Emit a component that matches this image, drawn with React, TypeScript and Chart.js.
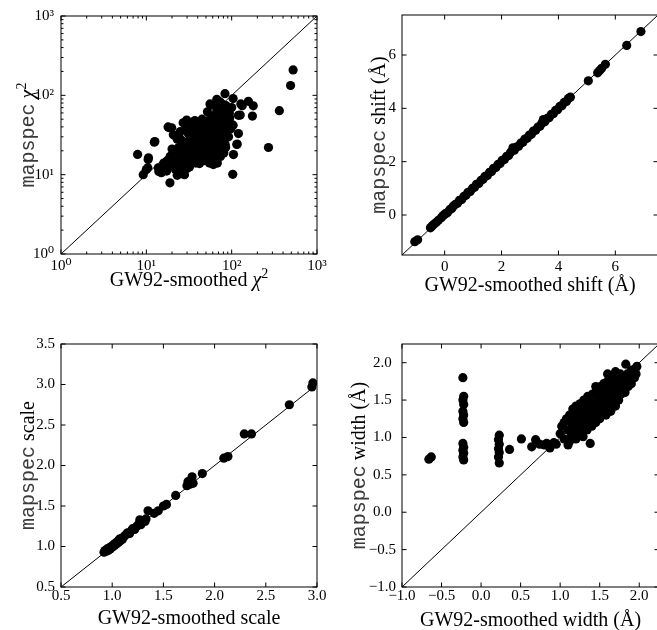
import React, { useEffect, useRef } from 'react';
import { Chart, registerables } from 'chart.js';

Chart.register(...registerables);

// ---------- DATA ----------
// Panel 1: chi^2 (GW92-smoothed, mapspec)
const chiPoints: number[][] = [
  [525, 209], [490, 133], [362, 64], [270, 22], [103, 10.1], [105, 17.9], [116, 24.3], [61, 13.4], [81, 18.8],
  [7.9, 18], [9.2, 10], [10.4, 12.2], [10.6, 16.3], [12.4, 25.7], [13.8, 12.2], [15, 10.6], [18.9, 7.9],
  [18.4, 39.2], [19.8, 39], [20.7, 31.8], [26, 10.3], [17.3, 14.8], [29.7, 48.9], [83.5, 105], [73, 82.6],
  [55.7, 78], [104, 91], [157, 84], [179, 73.7], [175, 54.8], [126, 56.4], [128, 78], [133, 74], [67, 89],
  [57, 75], [76, 79], [52, 62], [120, 56], [104, 42], [120, 33], [115, 24], [84, 24], [48.7, 16.3], [17.3, 11.1],
  [10, 11.6], [10.5, 15.5], [12.6, 26.2], [18, 40],
  [22, 14], [22, 18], [24, 12], [25, 16], [26, 20], [27, 13], [28, 17], [28, 23], [30, 15], [30, 19], [31, 26],
  [32, 12.5], [33, 21], [34, 16], [34, 30], [35, 24], [36, 18], [37, 34], [38, 14], [38, 27], [39, 21], [40, 40],
  [41, 17], [42, 30], [43, 24], [44, 35], [45, 20], [46, 44], [47, 28], [48, 15], [49, 33], [50, 23], [51, 38],
  [52, 27], [53, 48], [54, 19], [55, 31], [56, 42], [57, 25], [58, 36], [60, 29], [60, 52], [62, 21], [63, 40],
  [64, 33], [65, 27], [66, 46], [68, 37], [70, 24], [70, 30], [72, 58], [73, 42], [75, 34], [76, 19.5], [78, 50],
  [80, 28], [82, 40], [85, 35], [88, 62], [90, 45], [92, 30], [95, 52], [98, 38], [100, 70], [18, 13], [19, 17],
  [20, 21], [21, 15], [23, 28], [24, 22], [25, 35], [27, 45], [29, 37], [31, 33], [33, 44], [35, 38], [37, 48],
  [39, 17], [42, 13.8], [44, 22], [46, 25], [50, 16.5], [55, 14], [58, 18], [62, 16], [66, 20], [36, 22], [40, 26],
  [45, 31], [48, 38], [53, 34], [57, 46], [61, 55], [67, 64], [70, 72], [78, 68], [86, 74], [94, 60], [45, 50],
  [41, 44], [35, 28], [30, 22], [26, 27], [24, 31], [32, 40], [39, 33], [49, 28], [54, 24], [59, 33], [64, 26],
  [72, 36], [80, 46], [88, 50], [96, 44], [85, 22], [74, 17], [68, 14], [30, 12], [22, 11.5], [20, 13], [16, 14],
  [15, 12], [14, 11], [28, 10], [23, 9.8],
];
const chiTicks = [1, 10, 100, 1000];
const chiTickLabels = ['10\u2070', '10\u00b9', '10\u00b2', '10\u00b3'];
const chiRange = [1, 1000];

// Panel 2: shift (Å)
const shiftPoints: number[][] = [
  [-1.05, -1.0], [-0.95, -0.93], [-0.5, -0.48], [-0.45, -0.42], [-0.38, -0.35], [-0.3, -0.28], [-0.22, -0.2],
  [-0.12, -0.1], [-0.05, -0.02], [0.0, 0.03], [0.05, 0.06], [0.1, 0.09], [0.18, 0.2], [0.25, 0.24], [0.3, 0.33],
  [0.38, 0.4], [0.45, 0.44], [0.52, 0.55], [0.6, 0.58], [0.68, 0.7], [0.75, 0.74], [0.82, 0.85], [0.9, 0.88],
  [0.98, 1.0], [1.05, 1.04], [1.12, 1.15], [1.2, 1.18], [1.28, 1.3], [1.35, 1.34], [1.42, 1.45], [1.5, 1.48],
  [1.58, 1.6], [1.65, 1.63], [1.72, 1.75], [1.8, 1.78], [1.88, 1.9], [1.95, 1.93], [2.02, 2.05], [2.1, 2.08],
  [2.18, 2.2], [2.25, 2.23], [2.32, 2.35], [2.4, 2.52], [2.45, 2.43], [2.52, 2.55], [2.6, 2.58], [2.68, 2.7],
  [2.75, 2.73], [2.82, 2.85], [2.9, 2.88], [2.98, 3.0], [3.05, 3.03], [3.12, 3.15], [3.2, 3.18], [3.28, 3.3],
  [3.35, 3.33], [3.42, 3.45], [3.47, 3.58], [3.52, 3.5], [3.6, 3.62], [3.67, 3.65], [3.75, 3.77], [3.82, 3.8],
  [3.9, 3.92], [3.97, 3.95], [4.05, 4.07], [4.12, 4.1], [4.2, 4.22], [4.28, 4.26], [4.35, 4.37], [4.42, 4.42],
  [5.05, 5.03], [5.38, 5.33], [5.45, 5.42], [5.52, 5.5], [5.65, 5.65], [6.4, 6.36], [6.9, 6.88],
];
const shiftTicks = [0, 2, 4, 6];
const shiftTickLabels = ['0', '2', '4', '6'];
const shiftRange = [-1.5, 7.5];

// Panel 3: scale
const scalePoints: number[][] = [
  [0.92, 0.93], [0.93, 0.95], [0.94, 0.94], [0.95, 0.97], [0.96, 0.95], [0.97, 0.98], [0.98, 0.97], [0.99, 1.0],
  [1.0, 0.99], [1.01, 1.02], [1.02, 1.01], [1.03, 1.04], [1.04, 1.03], [1.05, 1.06], [1.06, 1.05], [1.07, 1.09],
  [1.08, 1.07], [1.09, 1.1], [1.1, 1.09], [1.12, 1.13], [1.14, 1.15], [1.15, 1.17], [1.17, 1.16], [1.19, 1.2],
  [1.2, 1.22], [1.22, 1.21], [1.24, 1.25], [1.26, 1.28], [1.27, 1.33], [1.28, 1.27], [1.3, 1.32], [1.32, 1.31],
  [1.33, 1.34], [1.35, 1.44], [1.41, 1.41], [1.45, 1.44], [1.5, 1.5], [1.53, 1.52], [1.62, 1.63], [1.73, 1.75],
  [1.74, 1.8], [1.76, 1.77], [1.78, 1.86], [1.79, 1.78], [1.88, 1.9], [2.09, 2.09], [2.13, 2.11], [2.29, 2.39],
  [2.36, 2.39], [2.73, 2.75], [2.95, 2.97], [2.96, 3.02],
];
const scaleXTicks = [0.5, 1.0, 1.5, 2.0, 2.5, 3.0];
const scaleXTickLabels = ['0.5', '1.0', '1.5', '2.0', '2.5', '3.0'];
const scaleYTicks = [0.5, 1.0, 1.5, 2.0, 2.5, 3.0, 3.5];
const scaleYTickLabels = ['0.5', '1.0', '1.5', '2.0', '2.5', '3.0', '3.5'];
const scaleXRange = [0.5, 3.0];
const scaleYRange = [0.5, 3.5];

// Panel 4: width (Å)
const widthPoints: number[][] = [
  [-0.66, 0.71], [-0.63, 0.74],
  [-0.23, 1.8], [-0.22, 1.55], [-0.23, 1.5], [-0.22, 1.44], [-0.23, 1.35], [-0.22, 1.3], [-0.23, 1.25],
  [-0.22, 1.2], [-0.23, 0.92], [-0.22, 0.87], [-0.23, 0.83], [-0.22, 0.79], [-0.23, 0.74], [-0.22, 0.7],
  [0.23, 1.03], [0.22, 0.97], [0.23, 0.91], [0.22, 0.85], [0.23, 0.8], [0.22, 0.74], [0.23, 0.66],
  [0.36, 0.84], [0.51, 0.98], [0.64, 0.875], [0.69, 0.97], [0.74, 0.91], [0.8, 0.9], [0.83, 0.92], [0.87, 0.86],
  [0.95, 0.91], [0.92, 0.93], [1.38, 0.92],
  [1.0, 1.05], [1.02, 1.15], [1.05, 1.2], [1.05, 0.98], [1.08, 1.25], [1.1, 1.1], [1.1, 0.9], [1.12, 0.95],
  [1.12, 1.3], [1.14, 1.02], [1.15, 1.18], [1.16, 1.38], [1.18, 1.08], [1.18, 1.25], [1.2, 1.42], [1.2, 0.98],
  [1.22, 1.15], [1.22, 1.32], [1.24, 1.05], [1.25, 1.45], [1.25, 1.22], [1.27, 1.12], [1.28, 1.38], [1.29, 1.01],
  [1.3, 1.5], [1.3, 1.28], [1.32, 1.18], [1.33, 1.42], [1.34, 1.1], [1.35, 1.55], [1.35, 1.33], [1.37, 1.22],
  [1.38, 1.48], [1.4, 1.15], [1.4, 1.38], [1.41, 1.58], [1.42, 1.28], [1.44, 1.45], [1.45, 1.2], [1.46, 1.62],
  [1.47, 1.35], [1.48, 1.52], [1.5, 1.25], [1.5, 1.42], [1.51, 1.68], [1.52, 1.58], [1.53, 1.32], [1.55, 1.48],
  [1.55, 1.72], [1.56, 1.38], [1.58, 1.62], [1.58, 1.3], [1.6, 1.52], [1.6, 1.75], [1.62, 1.42], [1.63, 1.68],
  [1.64, 1.35], [1.65, 1.58], [1.66, 1.78], [1.67, 1.48], [1.68, 1.65], [1.7, 1.42], [1.7, 1.72], [1.71, 1.55],
  [1.72, 1.82], [1.73, 1.62], [1.74, 1.5], [1.75, 1.7], [1.76, 1.85], [1.77, 1.58], [1.78, 1.75], [1.8, 1.65],
  [1.8, 1.8], [1.82, 1.6], [1.83, 1.98], [1.84, 1.72], [1.85, 1.85], [1.86, 1.68], [1.88, 1.78], [1.9, 1.9],
  [1.9, 1.72], [1.92, 1.82], [1.94, 1.8], [1.95, 1.92], [1.97, 1.95], [1.96, 1.85], [1.45, 1.68], [1.35, 1.44],
  [1.25, 1.35], [1.6, 1.85], [1.7, 1.88],
];
const widthTicks = [-1.0, -0.5, 0.0, 0.5, 1.0, 1.5, 2.0];
const widthTickLabels = ['\u22121.0', '\u22120.5', '0.0', '0.5', '1.0', '1.5', '2.0'];
const widthRange = [-1.0, 2.25];

// ---------- RENDERING ----------
const SERIF = '"Liberation Serif", "DejaVu Serif", serif';
const MONO = '"Liberation Mono", "DejaVu Sans Mono", monospace';

type Seg = { t: string; f: string; dy?: number; c?: string };

const mono = (t: string): Seg => ({ t, f: `20px ${MONO}`, c: '#3a3a3a' });
const serif = (t: string): Seg => ({ t, f: `20px ${SERIF}` });
const chiSegs: Seg[] = [{ t: '\u03c7', f: `italic 20px ${SERIF}` }, { t: '2', f: `14px ${SERIF}`, dy: -8 }];

type PanelCfg = {
  box: { x: number; y: number; w: number; h: number };
  area: { left: number; top: number; right: number; bottom: number };
  points: number[][];
  diag: number[];
  xType: 'linear' | 'logarithmic';
  xRange: number[];
  yRange: number[];
  xTicks: number[];
  xLabels: string[];
  yTicks: number[];
  yLabels: string[];
  xTitle: Seg[];
  yTitle: Seg[];
  xTitleDy: number;
  yTitleDx: number;
  yCenter?: boolean;
  yPad: number;
  xPad: number;
};

const panels: PanelCfg[] = [
  {
    box: { x: 0, y: 0, w: 330, h: 312 },
    area: { left: 61, top: 13, right: 317, bottom: 254 },
    points: chiPoints, diag: chiRange, xType: 'logarithmic',
    xRange: chiRange, yRange: chiRange,
    xTicks: chiTicks, xLabels: chiTickLabels, yTicks: chiTicks, yLabels: chiTickLabels,
    xTitle: [serif('GW92-smoothed '), ...chiSegs],
    yTitle: [mono('mapspec'), serif(' '), ...chiSegs],
    xTitleDy: 32, yTitleDx: 34, yPad: 7, xPad: 3,
  },
  {
    box: { x: 330, y: 0, w: 336, h: 312 },
    area: { left: 402, top: 13, right: 658, bottom: 255 },
    points: shiftPoints, diag: shiftRange, xType: 'linear',
    xRange: shiftRange, yRange: shiftRange,
    xTicks: shiftTicks, xLabels: shiftTickLabels, yTicks: shiftTicks, yLabels: shiftTickLabels,
    xTitle: [serif('GW92-smoothed shift (\u00c5)')],
    yTitle: [mono('mapspec'), serif(' shift (\u00c5)')],
    xTitleDy: 36, yTitleDx: 24, yPad: 6, xPad: 3,
  },
  {
    box: { x: 0, y: 312, w: 330, h: 318 },
    area: { left: 61, top: 344, right: 317, bottom: 587 },
    points: scalePoints, diag: scaleXRange, xType: 'linear',
    xRange: scaleXRange, yRange: scaleYRange,
    xTicks: scaleXTicks, xLabels: scaleXTickLabels, yTicks: scaleYTicks, yLabels: scaleYTickLabels,
    xTitle: [serif('GW92-smoothed scale')],
    yTitle: [mono('mapspec'), serif(' scale')],
    xTitleDy: 37, yTitleDx: 34, yPad: 6, xPad: 0,
  },
  {
    box: { x: 330, y: 312, w: 336, h: 318 },
    area: { left: 402, top: 344, right: 659, bottom: 587 },
    points: widthPoints, diag: widthRange, xType: 'linear',
    xRange: widthRange, yRange: widthRange,
    xTicks: widthTicks, xLabels: widthTickLabels, yTicks: widthTicks, yLabels: widthTickLabels,
    xTitle: [serif('GW92-smoothed width (\u00c5)')],
    yTitle: [mono('mapspec'), serif(' width (\u00c5)')],
    xTitleDy: 39, yTitleDx: 44, yCenter: true, yPad: 6, xPad: 0,
  },
];

function drawSegs(ctx: CanvasRenderingContext2D, segs: Seg[], cx: number, baseY: number) {
  const widths = segs.map((s) => {
    ctx.font = s.f;
    return ctx.measureText(s.t).width;
  });
  const total = widths.reduce((a, b) => a + b, 0);
  let x = cx - total / 2;
  ctx.textAlign = 'left';
  ctx.textBaseline = 'alphabetic';
  segs.forEach((s, i) => {
    ctx.font = s.f;
    ctx.fillStyle = s.c || '#000';
    ctx.fillText(s.t, x, baseY + (s.dy || 0));
    x += widths[i];
  });
}

function Panel({ cfg }: { cfg: PanelCfg }) {
  const ref = useRef<HTMLCanvasElement>(null);
  useEffect(() => {
    const canvas = ref.current;
    if (!canvas) return;
    const { box, area } = cfg;
    const framePlugin = {
      id: 'frame',
      afterDraw(chart: any) {
        const { ctx, chartArea: a, scales } = chart;
        const xs = scales.x;
        const ys = scales.y;
        ctx.save();
        ctx.strokeStyle = '#000';
        ctx.lineWidth = 1;
        ctx.strokeRect(a.left, a.top, a.right - a.left, a.bottom - a.top);
        const major = 4.5;
        const minor = 2.5;
        const xMark = (v: number, len: number) => {
          const p = xs.getPixelForValue(v);
          ctx.beginPath();
          ctx.moveTo(p, a.bottom);
          ctx.lineTo(p, a.bottom - len);
          ctx.moveTo(p, a.top);
          ctx.lineTo(p, a.top + len);
          ctx.stroke();
        };
        const yMark = (v: number, len: number) => {
          const p = ys.getPixelForValue(v);
          ctx.beginPath();
          ctx.moveTo(a.left, p);
          ctx.lineTo(a.left + len, p);
          ctx.moveTo(a.right, p);
          ctx.lineTo(a.right - len, p);
          ctx.stroke();
        };
        cfg.xTicks.forEach((v) => xMark(v, major));
        cfg.yTicks.forEach((v) => yMark(v, major));
        if (cfg.xType === 'logarithmic') {
          for (let d = 0; d < cfg.xTicks.length - 1; d++) {
            for (let k = 2; k <= 9; k++) {
              const v = k * cfg.xTicks[d];
              xMark(v, minor);
              yMark(v, minor);
            }
          }
        }
        // axis titles
        drawSegs(ctx, cfg.xTitle, (a.left + a.right) / 2, a.bottom + cfg.xTitleDy);
        ctx.translate(a.left - cfg.yTitleDx, (a.top + a.bottom) / 2);
        ctx.rotate(-Math.PI / 2);
        drawSegs(ctx, cfg.yTitle, 0, 7);
        ctx.restore();
      },
    };
    const scaleCommon = {
      grid: { display: false, drawTicks: false },
      border: { display: false },
    };
    const chart = new Chart(canvas, {
      type: 'scatter',
      data: {
        datasets: [
          {
            data: cfg.points.map(([x, y]) => ({ x, y })),
            pointRadius: 4.6,
            pointBackgroundColor: '#000',
            pointBorderWidth: 0,
            backgroundColor: '#000',
            borderWidth: 0,
          },
          {
            data: cfg.diag.map((v) => ({ x: v, y: v })),
            showLine: true,
            pointRadius: 0,
            borderColor: '#000',
            borderWidth: 1,
            fill: false,
          },
        ],
      },
      options: {
        responsive: false,
        animation: false,
        events: [],
        layout: {
          padding: {
            top: area.top - box.y,
            right: box.x + box.w - area.right,
            left: 0,
            bottom: 0,
          },
        },
        plugins: { legend: { display: false }, tooltip: { enabled: false } },
        scales: {
          x: {
            ...scaleCommon,
            type: cfg.xType,
            min: cfg.xRange[0],
            max: cfg.xRange[1],
            afterBuildTicks: (s: any) => {
              s.ticks = cfg.xTicks.map((v) => ({ value: v }));
            },
            afterFit: (s: any) => {
              s.height = box.y + box.h - area.bottom;
            },
            ticks: {
              autoSkip: false,
              maxRotation: 0,
              padding: cfg.xPad,
              color: '#000',
              font: { family: SERIF, size: 15 },
              callback: (_v: any, i: number) => cfg.xLabels[i],
            },
          },
          y: {
            ...scaleCommon,
            type: cfg.xType,
            min: cfg.yRange[0],
            max: cfg.yRange[1],
            afterBuildTicks: (s: any) => {
              s.ticks = cfg.yTicks.map((v) => ({ value: v }));
            },
            afterFit: (s: any) => {
              s.width = area.left - box.x;
            },
            ticks: {
              autoSkip: false,
              padding: cfg.yPad,
              crossAlign: cfg.yCenter ? 'center' : 'near',
              color: '#000',
              font: { family: SERIF, size: 15 },
              callback: (_v: any, i: number) => cfg.yLabels[i],
            },
          },
        },
      } as any,
      plugins: [framePlugin],
    });
    return () => chart.destroy();
  }, [cfg]);
  return (
    <canvas
      ref={ref}
      width={cfg.box.w}
      height={cfg.box.h}
      style={{ position: 'absolute', left: cfg.box.x, top: cfg.box.y, width: cfg.box.w, height: cfg.box.h }}
    />
  );
}

export default function App() {
  return (
    <div
      style={{
        position: 'fixed',
        left: 0,
        top: 0,
        width: 657,
        height: 630,
        overflow: 'hidden',
        background: '#fff',
      }}
    >
      {panels.map((p, i) => (
        <Panel key={i} cfg={p} />
      ))}
    </div>
  );
}
